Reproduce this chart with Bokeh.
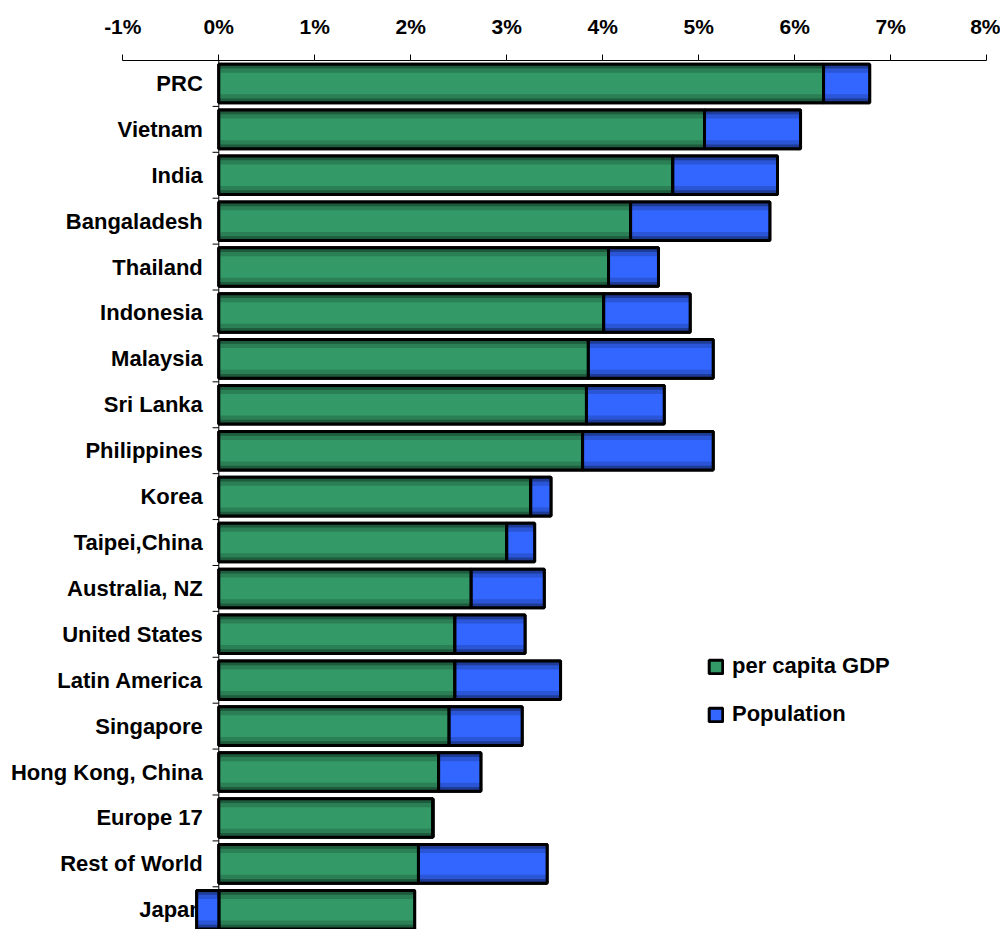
from bokeh.plotting import figure
from bokeh.models import (Range1d, FixedTicker, PrintfTickFormatter, Span,
                          ColumnDataSource, Legend, LegendItem)
from bokeh.core.properties import value
from bokeh.embed import file_html
from bokeh.resources import INLINE

# ---- data (percent per year) ----
countries = ["PRC", "Vietnam", "India", "Bangaladesh", "Thailand", "Indonesia",
             "Malaysia", "Sri Lanka", "Philippines", "Korea", "Taipei,China",
             "Australia, NZ", "United States", "Latin America", "Singapore",
             "Hong Kong, China", "Europe 17", "Rest of World", "Japan"]
gdp_per_capita = [6.30, 5.06, 4.73, 4.29, 4.06, 4.01, 3.85, 3.83, 3.79, 3.25,
                  3.00, 2.63, 2.46, 2.46, 2.40, 2.29, 2.23, 2.08, 2.04]
population = [0.48, 1.00, 1.09, 1.45, 0.52, 0.90, 1.30, 0.81, 1.36, 0.21,
              0.29, 0.76, 0.73, 1.10, 0.76, 0.44, 0.00, 1.34, -0.23]
tick_values = [-1, 0, 1, 2, 3, 4, 5, 6, 7, 8]
series_names = ["per capita GDP", "Population"]

GREEN, GREEN_MID, GREEN_DARK = "#339966", "#2a7f55", "#1e5a3c"
BLUE, BLUE_MID, BLUE_DARK = "#3366ff", "#2a55d6", "#1e3b96"
FONT = value("Liberation Sans")

ys = list(range(len(countries)))
g_left = [0.0] * len(countries)
g_right = gdp_per_capita
p_left = [g if v >= 0 else v for g, v in zip(gdp_per_capita, population)]
p_right = [g + v if v >= 0 else 0.0 for g, v in zip(gdp_per_capita, population)]

src = ColumnDataSource(dict(y=ys, gl=g_left, gr=g_right, pl=p_left, pr=p_right,
                            name=countries, zero=[0.0] * len(ys)))

p = figure(width=1000, height=929, output_backend="svg", toolbar_location=None,
           x_range=Range1d(-2.274, 8.143), y_range=Range1d(18.43, -0.5),
           x_axis_location="above", y_axis_location=None,
           min_border_left=0, min_border_right=0, min_border_bottom=0,
           min_border_top=60)
p.outline_line_color = None
p.xgrid.visible = False
p.ygrid.visible = False
p.background_fill_color = "white"
p.border_fill_color = "white"

ax = p.xaxis[0]
ax.bounds = (-1, 8)
ax.ticker = FixedTicker(ticks=tick_values)
ax.formatter = PrintfTickFormatter(format="%d%%")
ax.major_tick_out = 6
ax.major_tick_in = 0
ax.minor_tick_line_color = None
ax.axis_line_color = "black"
ax.major_tick_line_color = "black"
ax.major_label_text_font = "Liberation Sans"
ax.major_label_text_font_style = "bold"
ax.major_label_text_font_size = "21px"
ax.major_label_text_color = "black"
ax.major_label_standoff = 17

# category labels (drawn first so bars sit on top)
p.text(x="zero", y="y", text="name", source=src, x_offset=-16,
       text_align="right", text_baseline="middle", text_font=FONT,
       text_font_style="bold", text_font_size="22px", text_color="black")

# category axis at 0 with boundary ticks
bounds_y = [i - 0.5 for i in range(len(countries) + 1)]
p.segment(x0=[0.0] * len(bounds_y), y0=bounds_y, x1=[-0.065] * len(bounds_y),
          y1=bounds_y, line_color="black", line_width=1)

H = 0.84
legend_renderers = []
for left, right, cols in (("gl", "gr", (GREEN_DARK, GREEN_MID, GREEN)),
                          ("pl", "pr", (BLUE_DARK, BLUE_MID, BLUE))):
    base = p.hbar(y="y", left=left, right=right, height=H, source=src,
                  fill_color=cols[2], line_color="black", line_width=3)
    legend_renderers.append(base)
    p.hbar(y="y", left=left, right=right, height=H, source=src,
           fill_color=cols[0], line_color=None)
    p.hbar(y="y", left=left, right=right, height=H * 0.78, source=src,
           fill_color=cols[1], line_color=None)
    p.hbar(y="y", left=left, right=right, height=H * 0.56, source=src,
           fill_color=cols[2], line_color=None)
    p.hbar(y="y", left=left, right=right, height=H, source=src,
           fill_color=None, line_color="black", line_width=3)

p.add_layout(Span(location=0, dimension="height", line_color="black", line_width=1))

# legend
legend = Legend(items=[LegendItem(label=series_names[0], renderers=[legend_renderers[0]]),
                       LegendItem(label=series_names[1], renderers=[legend_renderers[1]])],
                location=(707, 202), orientation="vertical",
                glyph_width=17, glyph_height=17, label_standoff=8, spacing=22,
                padding=0, margin=0, border_line_color=None,
                background_fill_alpha=0, label_text_font="Liberation Sans",
                label_text_font_style="bold", label_text_font_size="22px",
                label_text_color="black", label_text_baseline="middle")
p.add_layout(legend)

open("out.html", "w").write(file_html(p, INLINE))
